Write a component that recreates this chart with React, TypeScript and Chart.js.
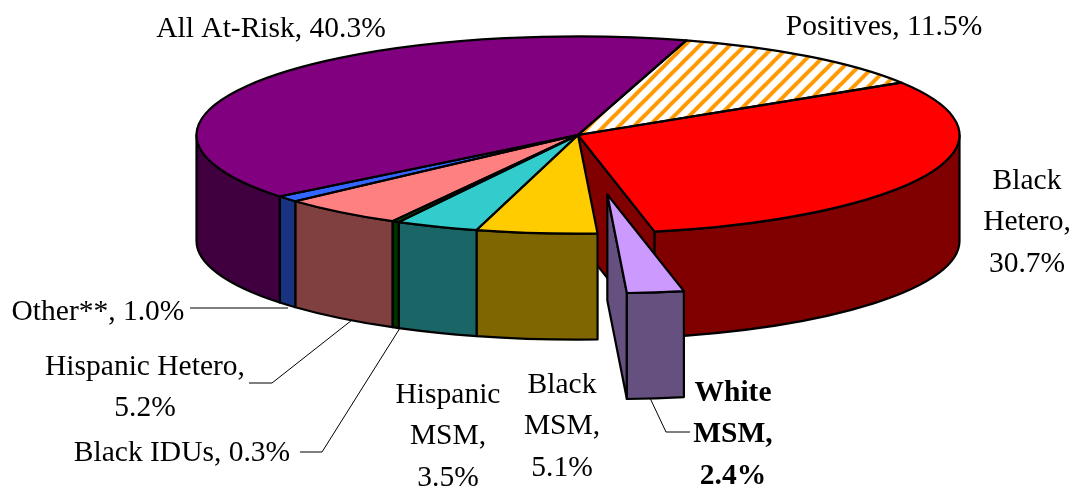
import React, { useEffect, useRef } from "react";
import { Chart, registerables } from "chart.js";

Chart.register(...registerables);

const categories = ["Positives", "Black Hetero", "White MSM", "Black MSM", "Hispanic MSM", "Black IDUs", "Hispanic Hetero", "Other**", "All At-Risk"];
const shares = [11.5, 30.7, 2.4, 5.1, 3.5, 0.3, 5.2, 1.0, 40.3];
const topColors = ["#FF9900", "#FF0000", "#CC99FF", "#FFCC00", "#33CCCC", "#006600", "#FF8080", "#3366FF", "#800080"];
const wallColors = ["#804D00", "#800000", "#66507F", "#806600", "#1A6666", "#003300", "#804040", "#1A3380", "#400040"];
const explode = [0, 0, 232, 0, 0, 0, 0, 0, 0];

const W = 1078;
const H = 487;
const RADIUS = 381.5;
const TILT = 0.2585;
const DEPTH = 106;
const ROTATION = 16.5;
const FONT = '"Liberation Serif", "Times New Roman", serif';
const FONT_SIZE = 29.5;

type Label = { lines: string[]; x: number; y: number; bold?: boolean };
const labels: Label[] = [
  { lines: ["All At-Risk, 40.3%"], x: 271, y: 29 },
  { lines: ["Positives, 11.5%"], x: 884, y: 27 },
  { lines: ["Black", "Hetero,", "30.7%"], x: 1027, y: 181 },
  { lines: ["White", "MSM,", "2.4%"], x: 733, y: 393, bold: true },
  { lines: ["Black", "MSM,", "5.1%"], x: 562, y: 385 },
  { lines: ["Hispanic", "MSM,", "3.5%"], x: 448, y: 395 },
  { lines: ["Black IDUs, 0.3%"], x: 182, y: 453 },
  { lines: ["Hispanic Hetero,", "5.2%"], x: 145, y: 367 },
  { lines: ["Other**, 1.0%"], x: 98, y: 312 },
];
const leaders: number[][][] = [
  [[190, 308], [288, 308]],
  [[249, 383], [272, 383], [352, 320]],
  [[300, 452], [322, 452], [400, 328]],
  [[650, 398], [666, 432], [690, 432]],
];

function hatch(): CanvasPattern | string {
  const size = 15;
  const c = document.createElement("canvas");
  c.width = size;
  c.height = size;
  const g = c.getContext("2d")!;
  g.fillStyle = "#FFFFFF";
  g.fillRect(0, 0, size, size);
  g.strokeStyle = "#FF9900";
  g.lineWidth = 4;
  for (const o of [-size, 0, size]) {
    g.beginPath();
    g.moveTo(o - 2, size + 2);
    g.lineTo(o + size + 2, -2);
    g.stroke();
  }
  const p = g.createPattern(c, "repeat")!;
  p.setTransform(new DOMMatrix().scale(1, 1 / TILT));
  return p;
}

function midY(chart: any) {
  return (chart.chartArea.top + chart.chartArea.bottom) / 2;
}

const pie3d = {
  id: "pie3d",
  afterDatasetsUpdate(chart: any) {
    chart.getDatasetMeta(0).data.forEach((el: any, i: number) => {
      const mid = (el.startAngle + el.endAngle) / 2;
      el.x += Math.cos(mid) * explode[i];
      el.y += Math.sin(mid) * explode[i];
    });
  },
  beforeDatasetsDraw(chart: any) {
    const ctx: CanvasRenderingContext2D = chart.ctx;
    const cy = midY(chart);
    const arcs: any[] = chart.getDatasetMeta(0).data;
    const sy = (el: any) => cy + (el.y - cy) * TILT;
    ctx.save();
    ctx.lineWidth = 2.2;
    ctx.lineJoin = "round";
    ctx.strokeStyle = "#000000";

    const radial = (el: any, a: number, color: string) => {
      const y = sy(el);
      const px = el.x + Math.cos(a) * el.outerRadius;
      const py = y + Math.sin(a) * el.outerRadius * TILT;
      ctx.beginPath();
      ctx.moveTo(el.x, y);
      ctx.lineTo(px, py);
      ctx.lineTo(px, py + DEPTH);
      ctx.lineTo(el.x, y + DEPTH);
      ctx.closePath();
      ctx.fillStyle = color;
      ctx.fill();
      ctx.stroke();
    };
    const outer = (el: any, color: string) => {
      const y = sy(el);
      const r = el.outerRadius;
      for (let n = -1; n <= 1; n++) {
        const lo = Math.max(el.startAngle, n * 2 * Math.PI);
        const hi = Math.min(el.endAngle, n * 2 * Math.PI + Math.PI);
        if (hi <= lo) continue;
        ctx.beginPath();
        ctx.ellipse(el.x, y, r, r * TILT, 0, lo, hi);
        ctx.ellipse(el.x, y + DEPTH, r, r * TILT, 0, hi, lo, true);
        ctx.closePath();
        ctx.fillStyle = color;
        ctx.fill();
        ctx.stroke();
      }
    };

    const order = arcs.map((_, i) => i).sort((a, b) => explode[a] - explode[b]);
    order.forEach((i) => {
      const el = arcs[i];
      const next = (i + 1) % arcs.length;
      const prev = (i + arcs.length - 1) % arcs.length;
      if ((explode[i] || explode[next]) && Math.cos(el.endAngle) > 0) radial(el, el.endAngle, wallColors[i]);
      if ((explode[i] || explode[prev]) && Math.cos(el.startAngle) < 0) radial(el, el.startAngle, wallColors[i]);
      outer(el, wallColors[i]);
    });
    ctx.restore();

    ctx.save();
    ctx.translate(0, cy);
    ctx.scale(1, TILT);
    ctx.translate(0, -cy);
  },
  afterDatasetsDraw(chart: any) {
    const ctx: CanvasRenderingContext2D = chart.ctx;
    ctx.restore();
    const cy = midY(chart);
    ctx.save();
    ctx.lineWidth = 2.2;
    ctx.lineJoin = "round";
    ctx.strokeStyle = "#000000";
    chart.getDatasetMeta(0).data.forEach((el: any) => {
      const y = cy + (el.y - cy) * TILT;
      ctx.beginPath();
      ctx.moveTo(el.x, y);
      ctx.ellipse(el.x, y, el.outerRadius, el.outerRadius * TILT, 0, el.startAngle, el.endAngle);
      ctx.closePath();
      ctx.stroke();
    });
    ctx.restore();
  },
  afterDraw(chart: any) {
    const ctx: CanvasRenderingContext2D = chart.ctx;
    ctx.save();
    ctx.strokeStyle = "#000000";
    ctx.lineWidth = 1;
    leaders.forEach((pts) => {
      ctx.beginPath();
      pts.forEach(([x, y], i) => (i ? ctx.lineTo(x, y) : ctx.moveTo(x, y)));
      ctx.stroke();
    });
    ctx.fillStyle = "#000000";
    ctx.textAlign = "center";
    ctx.textBaseline = "middle";
    labels.forEach((l) => {
      ctx.font = `${l.bold ? "bold " : ""}${FONT_SIZE}px ${FONT}`;
      l.lines.forEach((t, i) => ctx.fillText(t, l.x, l.y + i * 41.5));
    });
    ctx.restore();
  },
};

export default function App() {
  const ref = useRef<HTMLCanvasElement>(null);
  useEffect(() => {
    const chart = new Chart(ref.current!, {
      type: "pie",
      data: {
        labels: categories,
        datasets: [
          {
            data: shares,
            backgroundColor: topColors.map((c, i) => (i === 0 ? hatch() : c)),
            borderWidth: 0,
            radius: RADIUS,
            clip: false,
          } as any,
        ],
      },
      options: {
        responsive: false,
        animation: false,
        events: [],
        rotation: ROTATION,
        layout: { padding: { left: 78, bottom: 217, top: 0, right: 0 } },
        plugins: { legend: { display: false }, tooltip: { enabled: false }, title: { display: false } },
      },
      plugins: [pie3d],
    });
    return () => chart.destroy();
  }, []);
  return (
    <div style={{ position: "absolute", left: 0, top: 0, width: W, height: H, background: "#FFFFFF" }}>
      <canvas ref={ref} width={W} height={H} style={{ display: "block" }} />
    </div>
  );
}
